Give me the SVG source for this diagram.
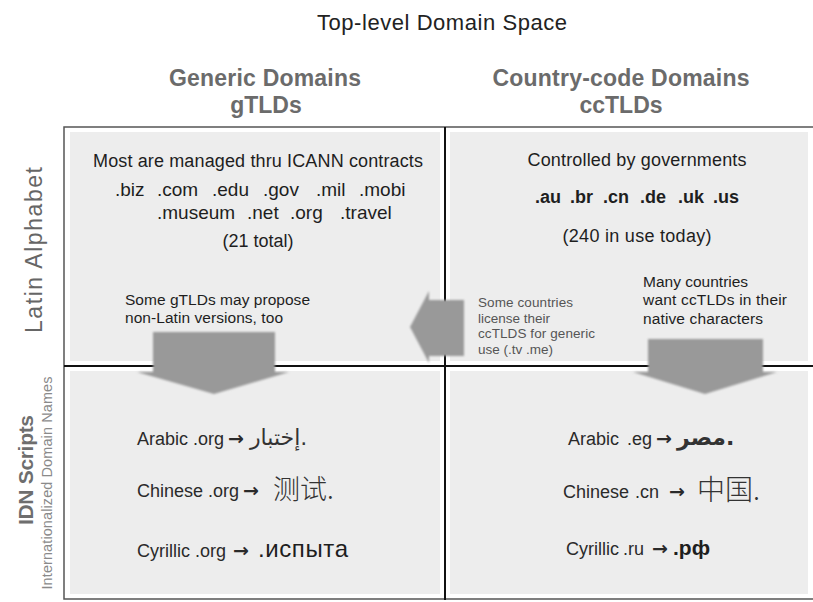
<svg xmlns="http://www.w3.org/2000/svg" width="813" height="602" viewBox="0 0 813 602">
  <style>
    .t { font-family: "Liberation Sans", Arial, sans-serif; fill: #1e1e1e; }
    .title { font-size: 22px; fill: #222; }
    .head { font-size: 23px; font-weight: bold; fill: #6b6b6b; }
    .side { font-size: 23px; fill: #666; }
    .sideb { font-size: 21px; font-weight: bold; fill: #6e6e6e; }
    .sides { font-size: 14.5px; fill: #8a8a8a; }
    .body { font-size: 18px; }
    .dom { font-size: 19px; }
    .note { font-size: 15.5px; }
    .small { font-size: 13.5px; fill: #555; }
    .idn { font-size: 18px; fill: #2a2a2a; }
    .arr { font-family: "DejaVu Sans", sans-serif; font-size: 19px; font-weight: bold; fill: #2a2a2a; }
    .ar { font-family: "DejaVu Sans", "Noto Sans", sans-serif; fill: #333; }
    .cjk { font-family: "Noto Sans CJK SC", "Noto Sans CJK JP", sans-serif; fill: #333; font-weight: 300; }
    .panel { fill: #ededed; }
    .frame { stroke: #555; stroke-width: 1.5; fill: none; }
    .divider { stroke: #111; stroke-width: 2; fill: none; }
    .block { fill: #999; filter: url(#soft); }
  </style>
  <defs>
    <filter id="soft" x="-10%" y="-10%" width="120%" height="120%">
      <feGaussianBlur stdDeviation="1.2"/>
    </filter>
  </defs>

  <rect x="0" y="0" width="813" height="602" fill="#fff"/>

  <!-- title and column headers -->
  <g id="title">
    <text class="t title" x="442" y="30" text-anchor="middle" textLength="250">Top-level Domain Space</text>
  </g>
  <g id="header-generic">
    <text class="t head" x="265" y="86" text-anchor="middle" textLength="192">Generic Domains</text>
    <text class="t head" x="266" y="113" text-anchor="middle">gTLDs</text>
  </g>
  <g id="header-cc">
    <text class="t head" x="621" y="86" text-anchor="middle" textLength="257">Country-code Domains</text>
    <text class="t head" x="621" y="113" text-anchor="middle">ccTLDs</text>
  </g>

  <!-- row labels -->
  <g id="row-latin">
    <text class="t side" transform="translate(42,250) rotate(-90)" text-anchor="middle" textLength="166">Latin Alphabet</text>
  </g>
  <g id="row-idn">
    <text class="t sideb" transform="translate(33,470) rotate(-90)" text-anchor="middle" textLength="110">IDN Scripts</text>
    <text class="t sides" transform="translate(52,483) rotate(-90)" text-anchor="middle" textLength="213">Internationalized Domain Names</text>
  </g>

  <!-- quadrant backgrounds -->
  <rect class="panel" x="70" y="132" width="370" height="229"/>
  <rect class="panel" x="450" y="132" width="358" height="229"/>
  <rect class="panel" x="70" y="371" width="370" height="223"/>
  <rect class="panel" x="450" y="371" width="358" height="223"/>

  <!-- outer frame and dividers -->
  <path class="frame" d="M813 127 H64 V599 H813"/>
  <line class="divider" x1="445" y1="127" x2="445" y2="600"/>
  <line class="divider" x1="64" y1="366" x2="813" y2="366"/>

  <!-- generic, latin -->
  <g id="generic-latin">
    <text class="t body" x="93" y="167" textLength="330">Most are managed thru ICANN contracts</text>
    <text class="t dom" y="196"><tspan x="115">.biz</tspan><tspan x="157">.com</tspan><tspan x="212">.edu</tspan><tspan x="263">.gov</tspan><tspan x="316">.mil</tspan><tspan x="359">.mobi</tspan></text>
    <text class="t dom" y="219"><tspan x="157">.museum</tspan><tspan x="247">.net</tspan><tspan x="290">.org</tspan><tspan x="340">.travel</tspan></text>
    <text class="t body" x="258" y="247" text-anchor="middle">(21 total)</text>
    <text class="t note" x="125" y="305" textLength="185">Some gTLDs may propose</text>
    <text class="t note" x="125" y="323" textLength="158">non-Latin versions, too</text>
  </g>

  <!-- country code, latin -->
  <g id="cc-latin">
    <text class="t body" x="637" y="166" text-anchor="middle" textLength="219">Controlled by governments</text>
    <text class="t body" y="203" font-weight="bold" fill="#333"><tspan x="535">.au</tspan><tspan x="570">.br</tspan><tspan x="603">.cn</tspan><tspan x="640">.de</tspan><tspan x="678">.uk</tspan><tspan x="713">.us</tspan></text>
    <text class="t body" x="637" y="242" text-anchor="middle" textLength="149">(240 in use today)</text>
    <text class="t note" x="643" y="287">Many countries</text>
    <text class="t note" x="643" y="305" textLength="144">want ccTLDs in their</text>
    <text class="t note" x="643" y="324" textLength="120">native characters</text>
  </g>

  <!-- licensing note -->
  <g id="license-note">
    <text class="t small" x="478" y="307" textLength="95">Some countries</text>
    <text class="t small" x="478" y="323">license their</text>
    <text class="t small" x="478" y="338" textLength="117">ccTLDS for generic</text>
    <text class="t small" x="478" y="354">use (.tv .me)</text>
  </g>

  <!-- transition arrows -->
  <g id="connectors">
    <path class="block" d="M153 332 H275 V372 H289 L214 394 L137 372 H153 Z"/>
    <path class="block" d="M648 339 H763 V372 H777 L705 394 L633 372 H648 Z"/>
    <path class="block" d="M464 300 H429 V291 L410 327 L429 363 V356 H464 Z"/>
  </g>

  <!-- generic, IDN -->
  <g id="generic-idn">
    <text class="t idn" x="137" y="445">Arabic .org</text>
    <text class="arr" x="228" y="445">→</text>
    <text class="ar" x="250" y="445" font-size="22">إختبار.</text>

    <text class="t idn" x="137" y="497">Chinese .org</text>
    <text class="arr" x="243" y="497">→</text>
    <text class="cjk" x="273" y="499" font-size="27">测试.</text>

    <text class="t idn" x="137" y="557">Cyrillic .org</text>
    <text class="arr" x="233" y="557">→</text>
    <text class="t" x="258" y="557" font-size="24" fill="#222" textLength="90">.испыта</text>
  </g>

  <!-- country code, IDN -->
  <g id="cc-idn">
    <text class="t idn" x="568" y="445">Arabic</text>
    <text class="t idn" x="627" y="445">.eg</text>
    <text class="arr" x="656" y="445">→</text>
    <text class="ar" x="677" y="445" font-size="22" font-weight="bold" fill="#222">مصر.</text>

    <text class="t idn" x="563" y="498">Chinese</text>
    <text class="t idn" x="635" y="498">.cn</text>
    <text class="arr" x="669" y="498">→</text>
    <text class="cjk" x="697" y="500" font-size="28">中国.</text>

    <text class="t idn" x="566" y="555">Cyrillic</text>
    <text class="t idn" x="623" y="555">.ru</text>
    <text class="arr" x="652" y="555">→</text>
    <text class="t" x="673" y="555" font-size="21" font-weight="bold" fill="#222">.рф</text>
  </g>
</svg>
